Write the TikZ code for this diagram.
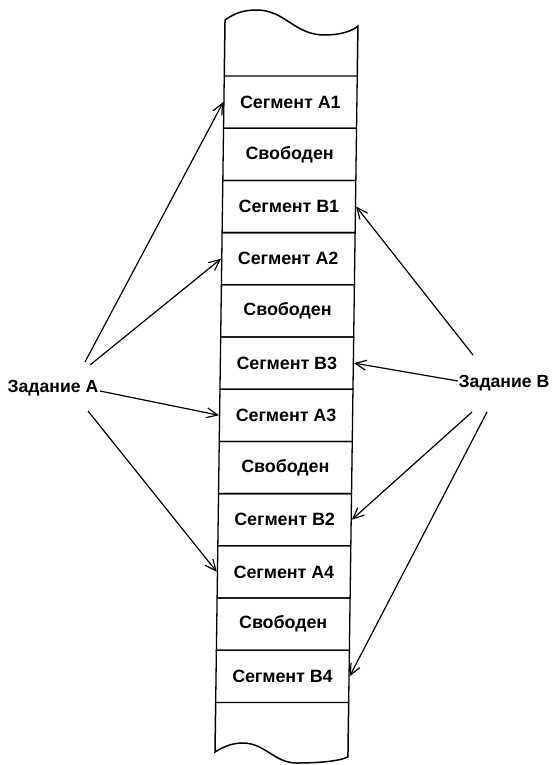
\documentclass[tikz,border=0pt]{standalone}
\usepackage{fontspec}
\setmainfont{Liberation Sans}
\usetikzlibrary{arrows.meta}
\begin{document}
\begin{tikzpicture}[x=1pt,y=-1pt,
  colline/.style={line width=1.5pt},
  cell/.style={draw,line width=1.3pt,minimum width=133pt,minimum height=52.2pt,
    inner sep=0pt,font=\bfseries\fontsize{17.8}{20}\selectfont},
  jobtext/.style={inner sep=0pt,font=\bfseries\fontsize{17.6}{20}\selectfont},
  ptr/.style={line width=1.2pt,-{Straight Barb[length=11pt,width=10pt,line width=1.2pt]}}]
\useasboundingbox (0,0) rectangle (553,765);

% memory column, slightly slanted
\begin{scope}[xslant=0.0137,transform shape]
  \foreach \nm/\txt [count=\i from 0] in {A1/Сегмент A1, F1/Свободен, B1/Сегмент B1,
      A2/Сегмент A2, F2/Свободен, B3/Сегмент B3, A3/Сегмент A3, F3/Свободен,
      B2/Сегмент B2, A4/Сегмент A4, F4/Свободен, B4/Сегмент B4}
    \node[cell] (\nm) at (291.8,{76+52.2*(\i+0.5)}) {\txt};
  % torn top edge
  \draw[colline] (225.3,76) -- (225.3,20)
    .. controls (235,13) and (244,10) .. (257,10)
    .. controls (285,10) and (295,35) .. (325,35)
    .. controls (341,35) and (353,31) .. (358.3,26) -- (358.3,76);
  % torn bottom edge
  \draw[colline] (225.3,702) -- (225.3,752)
    .. controls (235,746) and (243,743) .. (253,743)
    .. controls (275,743) and (285,763) .. (307,763)
    .. controls (330,763) and (350,761) .. (358.3,757) -- (358.3,702);
\end{scope}

% jobs
\node[jobtext] (ja) at (53,388) {Задание A};
\node[jobtext] (jb) at (504,383) {Задание B};

\coordinate (a1) at (85,362);
\coordinate (a2) at (90,365);
\coordinate (a3) at (100,391);
\coordinate (a4) at (88,411);
\coordinate (b1) at (473,355);
\coordinate (b3) at (458,381);
\coordinate (b2) at (472,412);
\coordinate (b4) at (487,412);

\draw[ptr] (a1) -- (A1.west);
\draw[ptr] (a2) -- (A2.west);
\draw[ptr] (a3) -- (A3.west);
\draw[ptr] (a4) -- (A4.west);
\draw[ptr] (b1) -- (B1.east);
\draw[ptr] (b3) -- (B3.east);
\draw[ptr] (b2) -- (B2.east);
\draw[ptr] (b4) -- (B4.east);
\end{tikzpicture}
\end{document}
